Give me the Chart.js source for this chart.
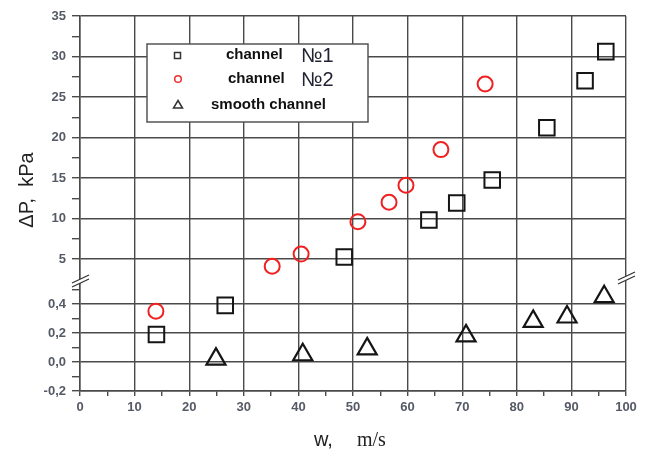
<!DOCTYPE html>
<html>
<head>
<meta charset="utf-8">
<script src="https://cdn.jsdelivr.net/npm/chart.js@4"></script>
<style>
  body { margin: 0; background: #fff; }
</style>
</head>
<body>
<canvas id="dpChart" width="649" height="451"></canvas>
<script>
// flow speed w (m/s) and pressure drop dP (kPa)
const ch1W = [14, 26.6, 48.4, 63.9, 69, 75.5, 85.5, 92.5, 96.3];
const ch1Dp = [0.19, 0.39, 5.25, 9.8, 11.9, 14.75, 21.2, 27, 30.6];
const ch2W = [13.9, 35.2, 40.5, 50.9, 56.6, 59.7, 66.1, 74.2];
const ch2Dp = [0.35, 4.1, 5.6, 9.6, 12.0, 14.1, 18.5, 26.6];
const smoothW = [24.9, 40.8, 52.6, 70.7, 83, 89.2, 96];
const smoothDp = [0.02, 0.05, 0.09, 0.18, 0.28, 0.31, 0.45];

const seriesNames = ['channel', 'channel', 'smooth channel'];
const seriesNums = ['№1', '№2', ''];

const breakAt = 1;   // values below this go on the lower (zoomed) axis
const gridColor = '#4a4a4a';
const labelColor = '#555a66';
const tickFont = { family: 'Arial', size: 13, weight: 'bold' };

function pts(ws, dps, lower) {
  return ws.map((w, i) => ({ x: w, y: dps[i] }))
           .filter(p => lower ? p.y < breakAt : p.y >= breakAt);
}

function makeTicks(from, to, step) {
  const out = [];
  const n = Math.round((to - from) / step);
  for (let i = 0; i <= n; i++) out.push({ value: Math.round((from + i * step) * 1000) / 1000 });
  return out;
}

const ch1Style = { pointStyle: 'rect', pointRadius: 11, borderColor: '#151515', borderWidth: 2, backgroundColor: 'rgba(0,0,0,0)' };
const ch2Style = { pointStyle: 'circle', pointRadius: 7.5, borderColor: '#f02020', borderWidth: 2, backgroundColor: 'rgba(0,0,0,0)' };
const smStyle = { pointStyle: 'triangle', pointRadius: 11, borderColor: '#151515', borderWidth: 2.2, backgroundColor: 'rgba(0,0,0,0)' };

// legend, axis titles and axis break marks
const decorPlugin = {
  id: 'decor',
  afterDraw(chart) {
    const ctx = chart.ctx;
    const area = chart.chartArea;
    ctx.save();

    // break marks
    ctx.strokeStyle = '#333';
    ctx.lineWidth = 1.3;
    const yb = chart.scales.yHigh.bottom;
    [[area.left, 0], [area.right, -3]].forEach(([bx, dy]) => {
      ctx.fillStyle = '#fff';
      ctx.beginPath();
      ctx.moveTo(bx - 8, yb + 3 + dy); ctx.lineTo(bx + 9, yb - 5 + dy);
      ctx.lineTo(bx + 9, yb - 1 + dy); ctx.lineTo(bx - 8, yb + 7 + dy);
      ctx.closePath(); ctx.fill();
      ctx.beginPath();
      ctx.moveTo(bx - 8, yb + 3 + dy); ctx.lineTo(bx + 9, yb - 5 + dy);
      ctx.moveTo(bx - 8, yb + 7 + dy); ctx.lineTo(bx + 9, yb - 1 + dy);
      ctx.stroke();
    });

    // legend box
    ctx.fillStyle = '#fff';
    ctx.fillRect(147, 44, 221, 78);
    ctx.strokeStyle = '#555';
    ctx.lineWidth = 1.5;
    ctx.strokeRect(147, 44, 221, 78);

    const rows = [55, 79, 105];
    ctx.lineWidth = 1.5;
    // square
    ctx.strokeStyle = '#333';
    ctx.strokeRect(174.5, 52.5, 6, 6);
    // circle
    ctx.strokeStyle = '#f03030';
    ctx.beginPath(); ctx.arc(178, 79, 3.3, 0, Math.PI * 2); ctx.stroke();
    // triangle
    ctx.strokeStyle = '#333';
    ctx.beginPath(); ctx.moveTo(178, 100.5); ctx.lineTo(182.5, 108); ctx.lineTo(173.5, 108); ctx.closePath(); ctx.stroke();

    ctx.fillStyle = '#111';
    ctx.textBaseline = 'middle';
    ctx.textAlign = 'left';
    ctx.font = 'bold 15px Arial';
    ctx.fillText(seriesNames[0], 226, rows[0]);
    ctx.fillText(seriesNames[1], 228, rows[1]);
    ctx.fillText(seriesNames[2], 211, rows[2]);
    ctx.fillStyle = '#223';
    ctx.font = '20px Arial';
    ctx.fillText(seriesNums[0], 301, rows[0] + 1);
    ctx.fillText(seriesNums[1], 301, rows[1] + 1);

    // y title
    ctx.fillStyle = '#222';
    ctx.save();
    ctx.translate(27, 190);
    ctx.rotate(-Math.PI / 2);
    ctx.textAlign = 'center';
    ctx.font = '20px Arial';
    ctx.fillText('ΔP,  kPa', 0, 0);
    ctx.restore();

    // x title
    ctx.textAlign = 'left';
    ctx.textBaseline = 'alphabetic';
    ctx.font = '20px Arial';
    ctx.fillText('w,', 314, 446);
    ctx.font = '20px "Liberation Serif"';
    ctx.fillText('m/s', 357, 446);

    ctx.restore();
  }
};

const ctx = document.getElementById('dpChart').getContext('2d');
const dpChart = new Chart(ctx, {
  type: 'scatter',
  data: {
    datasets: [
      { label: 'ch1 low', data: pts(ch1W, ch1Dp, true), yAxisID: 'yLow', ...ch1Style },
      { label: 'ch1 high', data: pts(ch1W, ch1Dp, false), yAxisID: 'yHigh', ...ch1Style },
      { label: 'ch2 low', data: pts(ch2W, ch2Dp, true), yAxisID: 'yLow', ...ch2Style },
      { label: 'ch2 high', data: pts(ch2W, ch2Dp, false), yAxisID: 'yHigh', ...ch2Style },
      { label: 'smooth', data: pts(smoothW, smoothDp, true), yAxisID: 'yLow', ...smStyle }
    ]
  },
  options: {
    responsive: false,
    animation: false,
    events: [],
    layout: { padding: { left: 0, top: 16, right: 23, bottom: 0 } },
    plugins: { legend: { display: false }, tooltip: { enabled: false } },
    scales: {
      x: {
        type: 'linear', min: 0, max: 100,
        afterBuildTicks: s => { s.ticks = makeTicks(0, 100, 5); },
        afterFit: s => { s.height = 60; },
        ticks: {
          autoSkip: false, maxRotation: 0, padding: 4,
          color: labelColor, font: tickFont,
          callback: v => (v % 10 === 0 ? v : '')
        },
        grid: {
          color: c => (c.tick && c.tick.value % 10 === 0 ? gridColor : 'rgba(0,0,0,0)'),
          tickColor: gridColor, tickLength: 5, lineWidth: 1.4
        },
        border: { color: gridColor, width: 1.5 }
      },
      yLow: {
        type: 'linear', position: 'left', stack: 'dp', stackWeight: 111,
        min: -0.2, max: 0.565,
        afterBuildTicks: s => { s.ticks = makeTicks(-0.2, 0.5, 0.1); },
        afterFit: s => { s.width = 80; },
        ticks: {
          autoSkip: false, padding: 6,
          color: labelColor, font: tickFont,
          callback: v => (Math.abs(Math.round(v * 10)) % 2 === 0 ? v.toFixed(1).replace('.', ',') : '')
        },
        grid: {
          color: c => (c.tick && Math.abs(Math.round(c.tick.value * 10)) % 2 === 0 ? gridColor : 'rgba(0,0,0,0)'),
          tickColor: gridColor, tickLength: 8, lineWidth: 1.4
        },
        border: { color: gridColor, width: 1.5 }
      },
      yHigh: {
        type: 'linear', position: 'left', stack: 'dp', stackWeight: 264,
        min: 2.4, max: 35,
        afterBuildTicks: s => { s.ticks = makeTicks(5, 35, 2.5); },
        afterFit: s => { s.width = 80; },
        ticks: {
          autoSkip: false, padding: 6,
          color: labelColor, font: tickFont,
          callback: v => (v % 5 === 0 ? v : '')
        },
        grid: {
          color: c => (c.tick && c.tick.value % 5 === 0 ? gridColor : 'rgba(0,0,0,0)'),
          tickColor: gridColor, tickLength: 8, lineWidth: 1.4
        },
        border: { color: gridColor, width: 1.5 }
      }
    }
  },
  plugins: [decorPlugin]
});
</script>
</body>
</html>
